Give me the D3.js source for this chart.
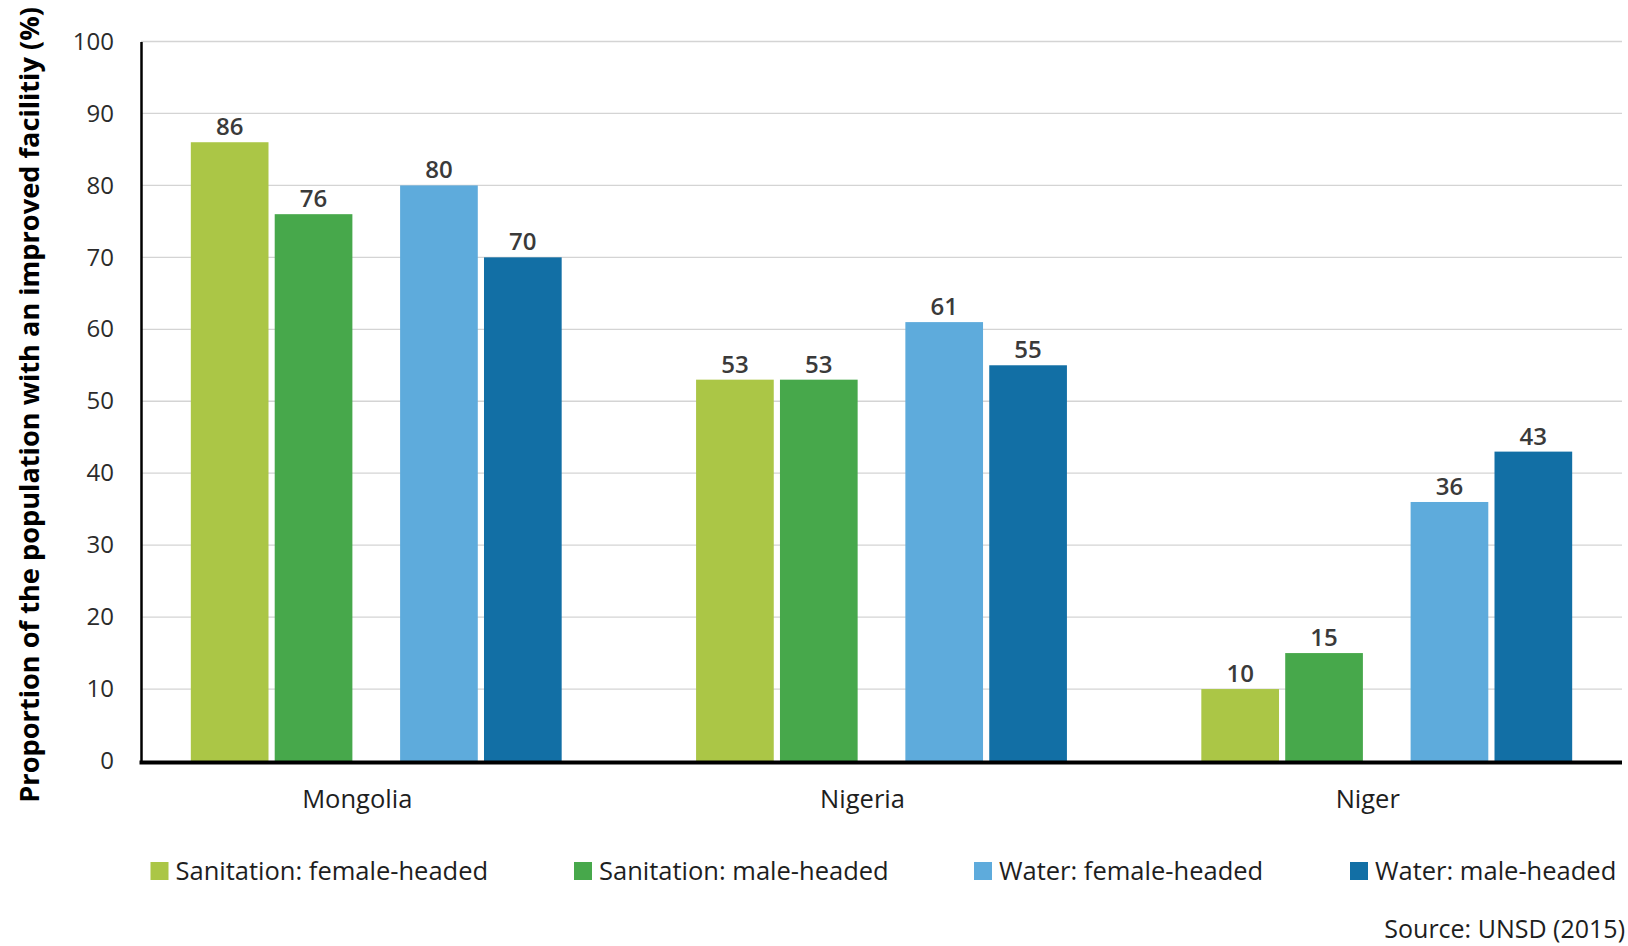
<!DOCTYPE html>
<html>
<head>
<meta charset="utf-8">
<script src="https://cdn.jsdelivr.net/npm/d3@7"></script>
<style>
  html, body { margin: 0; padding: 0; background: #fff; }
  svg { display: block; }
  text { font-family: "Open Sans", "Noto Sans", sans-serif; }
</style>
</head>
<body>
<svg id="chart" width="1628" height="946"></svg>
<script>
const countries = ["Mongolia", "Nigeria", "Niger"];
const seriesKeys = ["Sanitation: female-headed", "Sanitation: male-headed", "Water: female-headed", "Water: male-headed"];
const sanitationFemale = [86, 53, 10];
const sanitationMale = [76, 53, 15];
const waterFemale = [80, 61, 36];
const waterMale = [70, 55, 43];
const yTicks = [0, 10, 20, 30, 40, 50, 60, 70, 80, 90, 100];
const colors = ["#abc646", "#47a84b", "#5eabdc", "#126fa5"];
const yTitle = "Proportion of the population with an improved facilitiy (%)";
const sourceText = "Source: UNSD (2015)";

const seriesValues = [sanitationFemale, sanitationMale, waterFemale, waterMale];
const facility = ["Sanitation", "Water"];
const head = ["female", "male"];

const svg = d3.select("#chart");
const plotLeft = 141, plotRight = 1622, plotTop = 41.5, plotBottom = 761;

const x0 = d3.scaleBand().domain(countries).range([plotLeft, plotRight])
  .paddingInner(0.266).paddingOuter(0.0986);
const xPair = d3.scaleBand().domain(facility).range([0, x0.bandwidth()]).paddingInner(0.228);
const xBar = d3.scaleBand().domain(head).range([0, xPair.bandwidth()]).paddingInner(0.074);
const y = d3.scaleLinear().domain([0, 100]).range([plotBottom, plotTop]);

// gridlines
svg.append("g").selectAll("line").data(yTicks.filter(d => d > 0)).join("line")
  .attr("x1", plotLeft).attr("x2", plotRight)
  .attr("y1", d => y(d)).attr("y2", d => y(d))
  .attr("stroke", "#d4d4d4").attr("stroke-width", 1.3);

// y axis
const yAxis = svg.append("g").attr("transform", `translate(${plotLeft},0)`)
  .call(d3.axisLeft(y).tickValues(yTicks).tickSize(0).tickPadding(27));
yAxis.select(".domain").attr("stroke", "#000").attr("stroke-width", 2.5);
yAxis.selectAll("text").attr("font-size", 24).attr("fill", "#2b2b2b")
  .attr("font-family", "'Open Sans', sans-serif");

// bars
const data = [];
countries.forEach((c, ci) => {
  seriesKeys.forEach((k, si) => {
    data.push({ country: c, key: k, si, value: seriesValues[si][ci],
      fac: facility[Math.floor(si / 2)], head: head[si % 2] });
  });
});
const barX = d => x0(d.country) + xPair(d.fac) + xBar(d.head);

svg.append("g").selectAll("rect").data(data).join("rect")
  .attr("x", barX)
  .attr("y", d => y(d.value))
  .attr("width", xBar.bandwidth())
  .attr("height", d => y(0) - y(d.value))
  .attr("fill", d => colors[d.si]);

// value labels
svg.append("g").selectAll("text").data(data).join("text")
  .attr("x", d => barX(d) + xBar.bandwidth() / 2)
  .attr("y", d => y(d.value) - 7)
  .attr("text-anchor", "middle")
  .attr("font-size", 24).attr("font-weight", 600).attr("fill", "#3a3a3a")
  .text(d => d.value);

// x baseline
svg.append("line").attr("x1", plotLeft - 1.5).attr("x2", plotRight)
  .attr("y1", y(0) + 1.5).attr("y2", y(0) + 1.5)
  .attr("stroke", "#000").attr("stroke-width", 4);

// category labels
svg.append("g").selectAll("text").data(countries).join("text")
  .attr("x", d => x0(d) + x0.bandwidth() / 2 - 19)
  .attr("y", 808)
  .attr("text-anchor", "middle")
  .attr("font-size", 25.5).attr("fill", "#1e1e1e")
  .text(d => d);

// y title
svg.append("text")
  .attr("transform", `translate(39,${(8 + 772) / 2 * 1.0383}) rotate(-90)`)
  .attr("text-anchor", "middle")
  .attr("font-size", 27.2).attr("font-weight", 700).attr("fill", "#000")
  .text(yTitle);

// legend
const legendX = [150.5, 574, 974, 1350];
const lg = svg.append("g").selectAll("g").data(seriesKeys).join("g")
  .attr("transform", (d, i) => `translate(${legendX[i]},862)`);
lg.append("rect").attr("width", 18).attr("height", 18).attr("fill", (d, i) => colors[i]);
lg.append("text").attr("x", 25).attr("y", 18)
  .attr("font-size", 25.5).attr("fill", "#1e1e1e")
  .text(d => d);

// source
svg.append("text").attr("x", 1625).attr("y", 938)
  .attr("text-anchor", "end")
  .attr("font-size", 25).attr("fill", "#1e1e1e")
  .text(sourceText);
</script>
</body>
</html>
